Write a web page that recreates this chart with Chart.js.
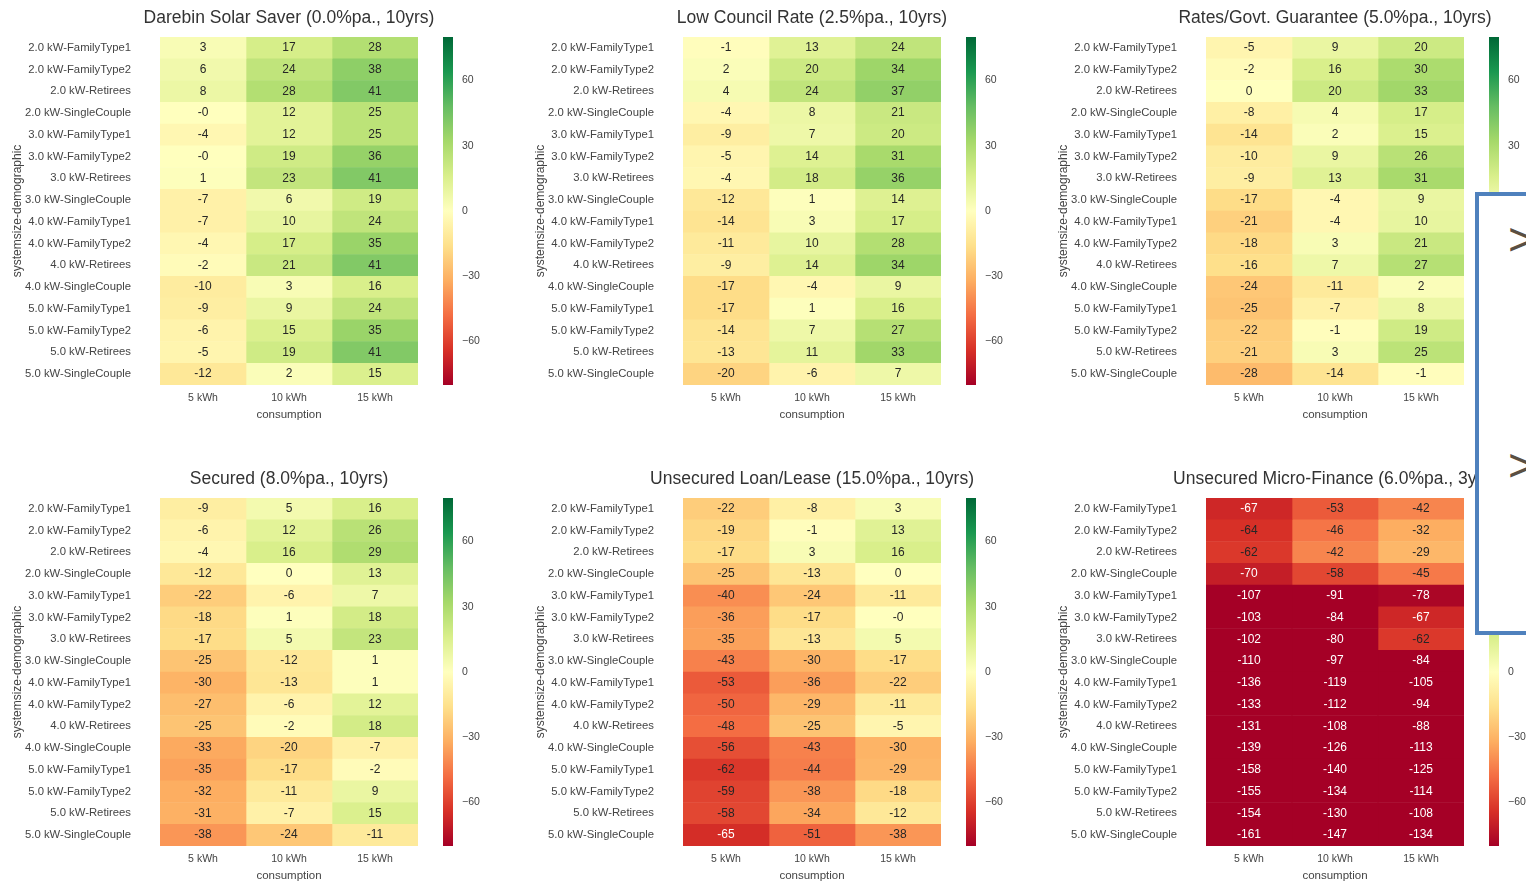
<!DOCTYPE html>
<html>
<head>
<meta charset="utf-8">
<title>Solar financing scenarios</title>
<script src="https://cdn.jsdelivr.net/npm/chart.js@4.4.1/dist/chart.umd.min.js"></script>
<style>
  html, body { margin: 0; padding: 0; background: #fff; }
  body { width: 1526px; height: 886px; overflow: hidden; position: relative; font-family: "Liberation Sans", Arial, sans-serif; }
  .wrap { position: absolute; }
  .overlay { position: absolute; left: 1475px; top: 192px; width: 100px; height: 435px; border: 4px solid #4f81bd; background: #fff; z-index: 5; }
  .chev { position: absolute; left: 29px; font-size: 47px; line-height: 47px; color: #5a4f42; }
</style>
</head>
<body>

<div class="overlay">
  <div class="chev" style="top:19px">&gt;</div>
  <div class="chev" style="top:245px">&gt;</div>
</div>

<script>
// rows (top to bottom) and columns of every heatmap
const rowLabels = [
  '2.0 kW-FamilyType1', '2.0 kW-FamilyType2', '2.0 kW-Retirees', '2.0 kW-SingleCouple',
  '3.0 kW-FamilyType1', '3.0 kW-FamilyType2', '3.0 kW-Retirees', '3.0 kW-SingleCouple',
  '4.0 kW-FamilyType1', '4.0 kW-FamilyType2', '4.0 kW-Retirees', '4.0 kW-SingleCouple',
  '5.0 kW-FamilyType1', '5.0 kW-FamilyType2', '5.0 kW-Retirees', '5.0 kW-SingleCouple'
];
const consumptionLabels = ['5 kWh', '10 kWh', '15 kWh'];

// one array per column: [5 kWh, 10 kWh, 15 kWh]
const darebinSolarSaver = [
  [3, 6, 8, -0.2, -4, -0.2, 1, -7, -7, -4, -2, -10, -9, -6, -5, -12],
  [17, 24, 28, 12, 12, 19, 23, 6, 10, 17, 21, 3, 9, 15, 19, 2],
  [28, 38, 41, 25, 25, 36, 41, 19, 24, 35, 41, 16, 24, 35, 41, 15]
];
const lowCouncilRate = [
  [-1, 2, 4, -4, -9, -5, -4, -12, -14, -11, -9, -17, -17, -14, -13, -20],
  [13, 20, 24, 8, 7, 14, 18, 1, 3, 10, 14, -4, 1, 7, 11, -6],
  [24, 34, 37, 21, 20, 31, 36, 14, 17, 28, 34, 9, 16, 27, 33, 7]
];
const ratesGovtGuarantee = [
  [-5, -2, 0, -8, -14, -10, -9, -17, -21, -18, -16, -24, -25, -22, -21, -28],
  [9, 16, 20, 4, 2, 9, 13, -4, -4, 3, 7, -11, -7, -1, 3, -14],
  [20, 30, 33, 17, 15, 26, 31, 9, 10, 21, 27, 2, 8, 19, 25, -1]
];
const secured = [
  [-9, -6, -4, -12, -22, -18, -17, -25, -30, -27, -25, -33, -35, -32, -31, -38],
  [5, 12, 16, 0, -6, 1, 5, -12, -13, -6, -2, -20, -17, -11, -7, -24],
  [16, 26, 29, 13, 7, 18, 23, 1, 1, 12, 18, -7, -2, 9, 15, -11]
];
const unsecuredLoanLease = [
  [-22, -19, -17, -25, -40, -36, -35, -43, -53, -50, -48, -56, -62, -59, -58, -65],
  [-8, -1, 3, -13, -24, -17, -13, -30, -36, -29, -25, -43, -44, -38, -34, -51],
  [3, 13, 16, 0, -11, -0.2, 5, -17, -22, -11, -5, -30, -29, -18, -12, -38]
];
const unsecuredMicroFinance = [
  [-67, -64, -62, -70, -107, -103, -102, -110, -136, -133, -131, -139, -158, -155, -154, -161],
  [-53, -46, -42, -58, -91, -84, -80, -97, -119, -112, -108, -126, -140, -134, -130, -147],
  [-42, -32, -29, -45, -78, -67, -62, -84, -105, -94, -88, -113, -125, -114, -108, -134]
];

const cbarMin = -80;
const cbarMax = 80;
const cbarTicks = [-60, -30, 0, 30, 60];

const panels = [
  { title: 'Darebin Solar Saver (0.0%pa., 10yrs)', values: darebinSolarSaver, left: 0, top: 0 },
  { title: 'Low Council Rate (2.5%pa., 10yrs)', values: lowCouncilRate, left: 523, top: 0 },
  { title: 'Rates/Govt. Guarantee (5.0%pa., 10yrs)', values: ratesGovtGuarantee, left: 1046, top: 0 },
  { title: 'Secured (8.0%pa., 10yrs)', values: secured, left: 0, top: 461 },
  { title: 'Unsecured Loan/Lease (15.0%pa., 10yrs)', values: unsecuredLoanLease, left: 523, top: 461 },
  { title: 'Unsecured Micro-Finance (6.0%pa., 3yrs)', values: unsecuredMicroFinance, left: 1046, top: 461 }
];

// RdYlGn, same 11 anchor colours as matplotlib
const rdYlGn = ['#a50026', '#d73027', '#f46d43', '#fdae61', '#fee08b', '#ffffbf',
                '#d9ef8b', '#a6d96a', '#66bd63', '#1a9850', '#006837'];

function hexToRgb(h) {
  return [parseInt(h.slice(1, 3), 16), parseInt(h.slice(3, 5), 16), parseInt(h.slice(5, 7), 16)];
}
const rdYlGnRgb = rdYlGn.map(hexToRgb);

function cmap(v) {
  let t = (v - cbarMin) / (cbarMax - cbarMin);
  t = Math.max(0, Math.min(1, t));
  const pos = t * (rdYlGnRgb.length - 1);
  const i = Math.min(Math.floor(pos), rdYlGnRgb.length - 2);
  const f = pos - i;
  const a = rdYlGnRgb[i], b = rdYlGnRgb[i + 1];
  return [0, 1, 2].map(k => Math.round(a[k] + (b[k] - a[k]) * f));
}
const toCss = c => `rgb(${c[0]}, ${c[1]}, ${c[2]})`;

function luminance(c) {
  const lin = c.map(x => {
    x = x / 255;
    return x <= 0.03928 ? x / 12.92 : Math.pow((x + 0.055) / 1.055, 2.4);
  });
  return 0.2126 * lin[0] + 0.7152 * lin[1] + 0.0722 * lin[2];
}

// like python's '.0f' (keeps "-0")
function fmt(v) {
  const r = Math.round(v);
  if (r === 0 && v < 0) return '-0';
  return String(r);
}

Chart.defaults.font.family = '"Liberation Sans", Arial, sans-serif';
Chart.defaults.color = '#444';

const panelTitle = {
  id: 'panelTitle',
  afterDraw(chart, args, opts) {
    const { ctx, chartArea } = chart;
    ctx.save();
    ctx.font = '17.5px "Liberation Sans", Arial, sans-serif';
    ctx.fillStyle = '#333';
    ctx.textAlign = 'center';
    ctx.textBaseline = 'middle';
    ctx.fillText(opts.text, (chartArea.left + chartArea.right) / 2, 18);
    ctx.restore();
  }
};

const cellLabels = {
  id: 'cellLabels',
  afterDatasetsDraw(chart) {
    const { ctx } = chart;
    ctx.save();
    ctx.font = '12px "Liberation Sans", Arial, sans-serif';
    ctx.textAlign = 'center';
    ctx.textBaseline = 'middle';
    chart.data.datasets.forEach((ds, di) => {
      chart.getDatasetMeta(di).data.forEach((bar, ri) => {
        const v = ds.values[ri];
        const p = bar.getCenterPoint();
        ctx.fillStyle = luminance(cmap(v)) < 0.163 ? '#ffffff' : '#262626';
        ctx.fillText(fmt(v), p.x, p.y);
      });
    });
    ctx.restore();
  }
};

function addCanvas(left, top, w, h) {
  const div = document.createElement('div');
  div.className = 'wrap';
  div.style.left = left + 'px';
  div.style.top = top + 'px';
  div.style.width = w + 'px';
  div.style.height = h + 'px';
  const cv = document.createElement('canvas');
  div.appendChild(cv);
  document.body.appendChild(div);
  return cv;
}

panels.forEach(p => {
  // heatmap (canvas wider than the grid so long titles are not clipped)
  const hm = addCanvas(p.left, p.top, 500, 430);
  new Chart(hm, {
    type: 'bar',
    data: {
      labels: rowLabels,
      datasets: consumptionLabels.map((lab, c) => ({
        label: lab,
        data: rowLabels.map(() => 1),
        values: p.values[c],
        backgroundColor: p.values[c].map(v => toCss(cmap(v))),
        borderWidth: 0,
        barPercentage: 1,
        categoryPercentage: 1
      }))
    },
    options: {
      indexAxis: 'y',
      animation: false,
      responsive: true,
      maintainAspectRatio: false,
      layout: { padding: { top: 37, right: 82, left: 0, bottom: 0 } },
      scales: {
        x: {
          type: 'linear',
          stacked: true,
          min: 0,
          max: consumptionLabels.length,
          grid: { display: false, drawTicks: false },
          border: { display: false },
          afterBuildTicks: s => { s.ticks = consumptionLabels.map((_, i) => ({ value: i + 0.5 })); },
          afterFit: s => { s.height = 45; },
          ticks: {
            padding: 7,
            maxRotation: 0,
            autoSkip: false,
            font: { size: 10.5 },
            callback: (v, i) => consumptionLabels[i]
          },
          title: { display: true, text: 'consumption', padding: { top: 0, bottom: 8 }, font: { size: 11.5 } }
        },
        y: {
          type: 'category',
          stacked: true,
          grid: { display: false, drawTicks: false },
          border: { display: false },
          afterFit: s => { s.width = 160; },
          ticks: { padding: 29, autoSkip: false, font: { size: 11.3 } },
          title: { display: true, text: 'systemsize-demographic', padding: { top: 10, bottom: 4 }, font: { size: 12 } }
        }
      },
      plugins: {
        legend: { display: false },
        tooltip: { enabled: false },
        panelTitle: { text: p.title }
      }
    },
    plugins: [panelTitle, cellLabels]
  });

  // colour bar
  const cb = addCanvas(p.left + 440, p.top, 80, 430);
  new Chart(cb, {
    type: 'bar',
    data: {
      labels: ['colorbar'],
      datasets: [{
        data: [[cbarMin, cbarMax]],
        borderWidth: 0,
        barPercentage: 1,
        categoryPercentage: 1,
        backgroundColor: c => {
          const chart = c.chart;
          if (!chart.chartArea) return 'rgba(0,0,0,0)';
          const y = chart.scales.y;
          const g = chart.ctx.createLinearGradient(0, y.getPixelForValue(cbarMin), 0, y.getPixelForValue(cbarMax));
          rdYlGn.forEach((col, i) => g.addColorStop(i / (rdYlGn.length - 1), col));
          return g;
        }
      }]
    },
    options: {
      animation: false,
      responsive: true,
      maintainAspectRatio: false,
      layout: { padding: { left: 3, right: 0, top: 37, bottom: 45 } },
      scales: {
        x: { display: false },
        y: {
          type: 'linear',
          position: 'right',
          min: cbarMin,
          max: cbarMax,
          grid: { display: false, drawTicks: false },
          border: { display: false },
          afterBuildTicks: s => { s.ticks = cbarTicks.map(v => ({ value: v })); },
          afterFit: s => { s.width = 67; },
          ticks: {
            padding: 9,
            font: { size: 10.5 },
            callback: v => (v < 0 ? '\u2212' + Math.abs(v) : String(v))
          }
        }
      },
      plugins: { legend: { display: false }, tooltip: { enabled: false } }
    }
  });
});
</script>
</body>
</html>
